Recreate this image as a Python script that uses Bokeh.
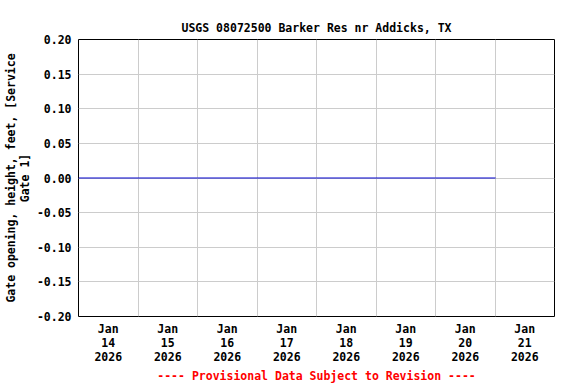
import pandas as pd
from bokeh.plotting import figure
from bokeh.models import FixedTicker, DatetimeTickFormatter, Title, Range1d, NumeralTickFormatter
from bokeh.embed import file_html
from bokeh.resources import INLINE

# ---- data ----
title_text = "USGS 08072500 Barker Res nr Addicks, TX"
ylabel_text = "Gate opening, height, feet, [Service\nGate 1]"
footer_text = "---- Provisional Data Subject to Revision ----"

times = ["2026-01-14 00:00", "2026-01-15 00:00", "2026-01-16 00:00", "2026-01-17 00:00",
         "2026-01-18 00:00", "2026-01-19 00:00", "2026-01-20 00:00", "2026-01-21 00:15"]
values = [0.0, 0.0, 0.0, 0.0, 0.0, 0.0, 0.0, 0.0]

label_days = ["2026-01-14", "2026-01-15", "2026-01-16", "2026-01-17",
              "2026-01-18", "2026-01-19", "2026-01-20", "2026-01-21"]
grid_days = ["2026-01-15", "2026-01-16", "2026-01-17", "2026-01-18",
             "2026-01-19", "2026-01-20", "2026-01-21"]
x_start, x_end = "2026-01-14", "2026-01-22"
y_ticks = [-0.20, -0.15, -0.10, -0.05, 0.0, 0.05, 0.10, 0.15, 0.20]
y_start, y_end = -0.20, 0.20


def ms(s):
    return pd.Timestamp(s).value / 1e6


x = [pd.Timestamp(t) for t in times]

FONT = "DejaVu Sans Mono"
FS = "11.5px"
FMT = "%b\n%d\n%Y"

p = figure(width=570, height=384, x_axis_type="datetime", output_backend="svg",
           toolbar_location=None,
           x_range=Range1d(ms(x_start), ms(x_end)), y_range=Range1d(y_start, y_end),
           min_border_left=78, min_border_right=16, min_border_top=39, min_border_bottom=68)

p.line(x, values, line_color="#0000CC", line_width=1)

p.title.text = title_text
p.title.align = "center"
p.title.text_font = FONT
p.title.text_font_size = FS
p.title.text_font_style = "bold"
p.title.text_color = "black"
p.title.offset = 0
p.title.standoff = 10

foot = Title(text=footer_text, align="center", text_font=FONT, text_font_size=FS,
             text_font_style="bold", text_color="red", standoff=0, offset=0)
p.add_layout(foot, "below")

# x axis
p.xaxis.ticker = FixedTicker(ticks=[ms(d + " 12:00") for d in label_days])
p.xaxis.formatter = DatetimeTickFormatter(
    hours=FMT, days=FMT, months=FMT, years=FMT, hourmin=FMT, minutes=FMT,
    minsec=FMT, seconds=FMT, milliseconds=FMT, microseconds=FMT)
p.xgrid.ticker = FixedTicker(ticks=[ms(d) for d in grid_days])

# y axis
p.yaxis.ticker = FixedTicker(ticks=y_ticks)
p.yaxis.formatter = NumeralTickFormatter(format="0.00")
p.yaxis.axis_label = ylabel_text

for ax in (p.xaxis[0], p.yaxis[0]):
    ax.major_tick_line_color = None
    ax.minor_tick_line_color = None
    ax.major_tick_in = 0
    ax.major_tick_out = 0
    ax.minor_tick_in = 0
    ax.minor_tick_out = 0
    ax.axis_line_color = None
    ax.major_label_text_font = FONT
    ax.major_label_text_font_size = FS
    ax.major_label_text_font_style = "bold"
    ax.major_label_text_color = "black"
    ax.major_label_text_line_height = 1.0
    ax.axis_label_text_font = FONT
    ax.axis_label_text_font_size = FS
    ax.axis_label_text_font_style = "bold"
    ax.axis_label_text_color = "black"
    ax.axis_label_text_line_height = 1.0

p.yaxis.major_label_standoff = 7
p.yaxis.axis_label_standoff = 2
p.xaxis.major_label_standoff = 5

p.grid.grid_line_color = "#cccccc"
p.grid.grid_line_width = 1
p.outline_line_color = "black"
p.outline_line_width = 1
p.background_fill_color = "white"
p.border_fill_color = "white"

open("out.html", "w").write(file_html(p, INLINE))
